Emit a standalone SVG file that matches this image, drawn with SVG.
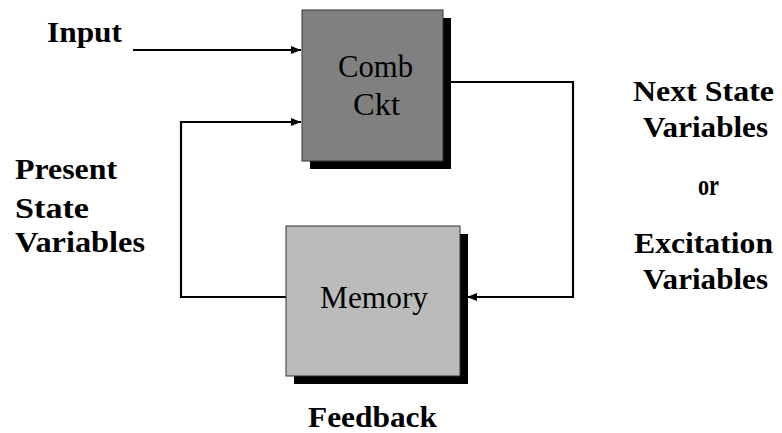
<svg xmlns="http://www.w3.org/2000/svg" width="782" height="433" viewBox="0 0 782 433">
<style>
.lbl{font-family:"Liberation Serif","Times New Roman",serif;font-weight:bold;font-size:28.5px;fill:#000}
.box{font-family:"Liberation Serif","Times New Roman",serif;font-size:32px;fill:#000}
.wire{fill:none;stroke:#000;stroke-width:2.2}
</style>
<defs>
<marker id="ah" viewBox="0 0 10 8" refX="10" refY="4" markerWidth="10" markerHeight="8" markerUnits="userSpaceOnUse" orient="auto">
<path d="M0,0 L10,4 L0,8 Z" fill="#000"/>
</marker>
</defs>
<rect width="782" height="433" fill="#fff"/>
<g id="connectors">
<path class="wire" d="M133,50 H301" marker-end="url(#ah)"/>
<path class="wire" d="M286,297 H181 V122 H301" marker-end="url(#ah)"/>
<path class="wire" d="M451,82 H573 V297 H467" marker-end="url(#ah)"/>
</g>
<g id="comb">
<rect x="310" y="18" width="141" height="151" fill="#000"/>
<rect x="302" y="10" width="141" height="151" fill="#808080" stroke="#333" stroke-width="1"/>
<text class="box" x="338" y="77" font-size="33" textLength="75" lengthAdjust="spacingAndGlyphs">Comb</text>
<text class="box" x="353" y="115" font-size="33" textLength="47" lengthAdjust="spacingAndGlyphs">Ckt</text>
</g>
<g id="memory">
<rect x="294" y="234" width="174" height="150" fill="#000"/>
<rect x="286" y="226" width="174" height="150" fill="#bbbbbb" stroke="#333" stroke-width="1"/>
<text class="box" x="320" y="308" textLength="108" lengthAdjust="spacingAndGlyphs">Memory</text>
</g>
<g id="labels">
<text class="lbl" x="47" y="42" textLength="75" lengthAdjust="spacingAndGlyphs">Input</text>
<text class="lbl" x="15" y="179" textLength="102" lengthAdjust="spacingAndGlyphs">Present</text>
<text class="lbl" x="15" y="218" textLength="74" lengthAdjust="spacingAndGlyphs">State</text>
<text class="lbl" x="15" y="252" textLength="130" lengthAdjust="spacingAndGlyphs">Variables</text>
<text class="lbl" x="633" y="101" textLength="141" lengthAdjust="spacingAndGlyphs">Next State</text>
<text class="lbl" x="643" y="137" textLength="125" lengthAdjust="spacingAndGlyphs">Variables</text>
<text class="lbl" x="698" y="195" textLength="21" lengthAdjust="spacingAndGlyphs">or</text>
<text class="lbl" x="634" y="253" textLength="139" lengthAdjust="spacingAndGlyphs">Excitation</text>
<text class="lbl" x="643" y="289" textLength="125" lengthAdjust="spacingAndGlyphs">Variables</text>
<text class="lbl" x="308" y="427" textLength="129" lengthAdjust="spacingAndGlyphs">Feedback</text>
</g>
</svg>
